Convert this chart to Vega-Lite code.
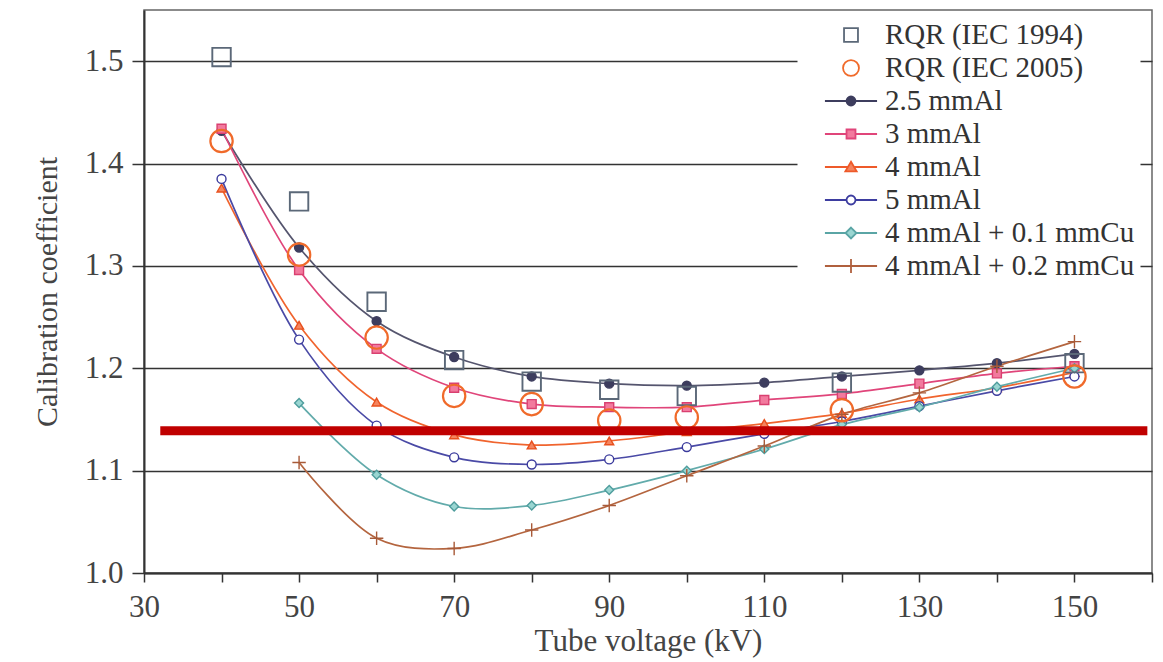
{
  "$schema": "https://vega.github.io/schema/vega-lite/v6.json",
  "width": 1008,
  "height": 563,
  "autosize": {"type": "none"},
  "padding": {"left": 144, "top": 10, "right": 11, "bottom": 89},
  "background": "white",
  "config": {
    "font": "Liberation Serif",
    "view": {"stroke": "#666666", "strokeWidth": 1.5},
    "axis": {"titleFontWeight": "normal", "labelFont": "Liberation Serif", "titleFont": "Liberation Serif"}
  },
  "data": {
    "values": [
      {"series": "RQR (IEC 1994)", "kv": 40, "coef": 1.504},
      {"series": "RQR (IEC 1994)", "kv": 50, "coef": 1.363},
      {"series": "RQR (IEC 1994)", "kv": 60, "coef": 1.265},
      {"series": "RQR (IEC 1994)", "kv": 70, "coef": 1.208},
      {"series": "RQR (IEC 1994)", "kv": 80, "coef": 1.187},
      {"series": "RQR (IEC 1994)", "kv": 90, "coef": 1.179},
      {"series": "RQR (IEC 1994)", "kv": 100, "coef": 1.173},
      {"series": "RQR (IEC 1994)", "kv": 120, "coef": 1.186},
      {"series": "RQR (IEC 1994)", "kv": 150, "coef": 1.205},
      {"series": "RQR (IEC 2005)", "kv": 40, "coef": 1.422},
      {"series": "RQR (IEC 2005)", "kv": 50, "coef": 1.311},
      {"series": "RQR (IEC 2005)", "kv": 60, "coef": 1.230},
      {"series": "RQR (IEC 2005)", "kv": 70, "coef": 1.173},
      {"series": "RQR (IEC 2005)", "kv": 80, "coef": 1.165},
      {"series": "RQR (IEC 2005)", "kv": 90, "coef": 1.149},
      {"series": "RQR (IEC 2005)", "kv": 100, "coef": 1.152},
      {"series": "RQR (IEC 2005)", "kv": 120, "coef": 1.159},
      {"series": "RQR (IEC 2005)", "kv": 150, "coef": 1.192},
      {"series": "2.5 mmAl", "kv": 40, "coef": 1.432},
      {"series": "2.5 mmAl", "kv": 50, "coef": 1.318},
      {"series": "2.5 mmAl", "kv": 60, "coef": 1.246},
      {"series": "2.5 mmAl", "kv": 70, "coef": 1.211},
      {"series": "2.5 mmAl", "kv": 80, "coef": 1.192},
      {"series": "2.5 mmAl", "kv": 90, "coef": 1.185},
      {"series": "2.5 mmAl", "kv": 100, "coef": 1.183},
      {"series": "2.5 mmAl", "kv": 110, "coef": 1.186},
      {"series": "2.5 mmAl", "kv": 120, "coef": 1.192},
      {"series": "2.5 mmAl", "kv": 130, "coef": 1.198},
      {"series": "2.5 mmAl", "kv": 140, "coef": 1.205},
      {"series": "2.5 mmAl", "kv": 150, "coef": 1.214},
      {"series": "3 mmAl", "kv": 40, "coef": 1.434},
      {"series": "3 mmAl", "kv": 50, "coef": 1.296},
      {"series": "3 mmAl", "kv": 60, "coef": 1.219},
      {"series": "3 mmAl", "kv": 70, "coef": 1.181},
      {"series": "3 mmAl", "kv": 80, "coef": 1.165},
      {"series": "3 mmAl", "kv": 90, "coef": 1.162},
      {"series": "3 mmAl", "kv": 100, "coef": 1.162},
      {"series": "3 mmAl", "kv": 110, "coef": 1.169},
      {"series": "3 mmAl", "kv": 120, "coef": 1.175},
      {"series": "3 mmAl", "kv": 130, "coef": 1.185},
      {"series": "3 mmAl", "kv": 140, "coef": 1.195},
      {"series": "3 mmAl", "kv": 150, "coef": 1.202},
      {"series": "4 mmAl", "kv": 40, "coef": 1.376},
      {"series": "4 mmAl", "kv": 50, "coef": 1.242},
      {"series": "4 mmAl", "kv": 60, "coef": 1.167},
      {"series": "4 mmAl", "kv": 70, "coef": 1.135},
      {"series": "4 mmAl", "kv": 80, "coef": 1.125},
      {"series": "4 mmAl", "kv": 90, "coef": 1.129},
      {"series": "4 mmAl", "kv": 100, "coef": 1.138},
      {"series": "4 mmAl", "kv": 110, "coef": 1.146},
      {"series": "4 mmAl", "kv": 120, "coef": 1.156},
      {"series": "4 mmAl", "kv": 130, "coef": 1.170},
      {"series": "4 mmAl", "kv": 140, "coef": 1.181},
      {"series": "4 mmAl", "kv": 150, "coef": 1.196},
      {"series": "5 mmAl", "kv": 40, "coef": 1.385},
      {"series": "5 mmAl", "kv": 50, "coef": 1.228},
      {"series": "5 mmAl", "kv": 60, "coef": 1.144},
      {"series": "5 mmAl", "kv": 70, "coef": 1.113},
      {"series": "5 mmAl", "kv": 80, "coef": 1.106},
      {"series": "5 mmAl", "kv": 90, "coef": 1.111},
      {"series": "5 mmAl", "kv": 100, "coef": 1.123},
      {"series": "5 mmAl", "kv": 110, "coef": 1.136},
      {"series": "5 mmAl", "kv": 120, "coef": 1.148},
      {"series": "5 mmAl", "kv": 130, "coef": 1.163},
      {"series": "5 mmAl", "kv": 140, "coef": 1.178},
      {"series": "5 mmAl", "kv": 150, "coef": 1.192},
      {"series": "4 mmAl + 0.1 mmCu", "kv": 50, "coef": 1.166},
      {"series": "4 mmAl + 0.1 mmCu", "kv": 60, "coef": 1.096},
      {"series": "4 mmAl + 0.1 mmCu", "kv": 70, "coef": 1.065},
      {"series": "4 mmAl + 0.1 mmCu", "kv": 80, "coef": 1.066},
      {"series": "4 mmAl + 0.1 mmCu", "kv": 90, "coef": 1.081},
      {"series": "4 mmAl + 0.1 mmCu", "kv": 100, "coef": 1.100},
      {"series": "4 mmAl + 0.1 mmCu", "kv": 110, "coef": 1.121},
      {"series": "4 mmAl + 0.1 mmCu", "kv": 120, "coef": 1.145},
      {"series": "4 mmAl + 0.1 mmCu", "kv": 130, "coef": 1.162},
      {"series": "4 mmAl + 0.1 mmCu", "kv": 140, "coef": 1.182},
      {"series": "4 mmAl + 0.1 mmCu", "kv": 150, "coef": 1.200},
      {"series": "4 mmAl + 0.2 mmCu", "kv": 50, "coef": 1.108},
      {"series": "4 mmAl + 0.2 mmCu", "kv": 60, "coef": 1.034},
      {"series": "4 mmAl + 0.2 mmCu", "kv": 70, "coef": 1.024},
      {"series": "4 mmAl + 0.2 mmCu", "kv": 80, "coef": 1.042},
      {"series": "4 mmAl + 0.2 mmCu", "kv": 90, "coef": 1.066},
      {"series": "4 mmAl + 0.2 mmCu", "kv": 100, "coef": 1.095},
      {"series": "4 mmAl + 0.2 mmCu", "kv": 110, "coef": 1.124},
      {"series": "4 mmAl + 0.2 mmCu", "kv": 120, "coef": 1.155},
      {"series": "4 mmAl + 0.2 mmCu", "kv": 130, "coef": 1.176},
      {"series": "4 mmAl + 0.2 mmCu", "kv": 140, "coef": 1.202},
      {"series": "4 mmAl + 0.2 mmCu", "kv": 150, "coef": 1.226}
    ]
  },
  "layer": [
    {
      "transform": [{"filter": {"field": "series", "oneOf": ["2.5 mmAl", "3 mmAl", "4 mmAl", "5 mmAl", "4 mmAl + 0.1 mmCu", "4 mmAl + 0.2 mmCu"]}}],
      "mark": {"type": "line", "interpolate": "catmull-rom", "strokeWidth": 1.7},
      "encoding": {
        "x": {
          "field": "kv", "type": "quantitative",
          "scale": {"domain": [30, 160], "nice": false},
          "axis": {
            "values": [30, 40, 50, 60, 70, 80, 90, 100, 110, 120, 130, 140, 150, 160],
            "labelExpr": "datum.value % 20 == 10 ? datum.label : ''",
            "format": "d", "grid": false, "tickSize": 9, "tickWidth": 1.5, "tickColor": "#333333",
            "domainColor": "#333333", "domainWidth": 2, "labelFontSize": 31, "labelColor": "#444444",
            "labelPadding": 10, "labelFlush": false, "labelOverlap": false,
            "title": "Tube voltage (kV)", "titleFontSize": 31, "titleColor": "#444444", "titlePadding": 4
          }
        },
        "y": {
          "field": "coef", "type": "quantitative",
          "scale": {"domain": [1.0, 1.55], "nice": false, "zero": false},
          "axis": {
            "values": [1.0, 1.1, 1.2, 1.3, 1.4, 1.5], "format": ".1f",
            "grid": true, "gridColor": "#333333", "gridWidth": 1.3,
            "tickSize": 12, "tickWidth": 1.5, "tickColor": "#333333",
            "domainColor": "#333333", "domainWidth": 2, "labelFontSize": 31, "labelColor": "#444444",
            "labelPadding": 9, "title": "Calibration coefficient", "titleFontSize": 30,
            "titleColor": "#444444", "titlePadding": 22
          }
        },
        "stroke": {
          "field": "series", "type": "nominal",
          "scale": {"domain": ["2.5 mmAl", "3 mmAl", "4 mmAl", "5 mmAl", "4 mmAl + 0.1 mmCu", "4 mmAl + 0.2 mmCu"],
                    "range": ["#55556e", "#e0457a", "#f0642e", "#4a4aa6", "#62abab", "#b4653f"]},
          "legend": null
        }
      }
    },
    {
      "transform": [{"filter": {"field": "series", "oneOf": ["2.5 mmAl", "3 mmAl", "4 mmAl", "5 mmAl", "4 mmAl + 0.1 mmCu", "4 mmAl + 0.2 mmCu"]}}],
      "mark": {"type": "point", "filled": true, "size": 80, "strokeWidth": 1.4, "opacity": 1},
      "encoding": {
        "x": {"field": "kv", "type": "quantitative"},
        "y": {"field": "coef", "type": "quantitative"},
        "shape": {
          "field": "series", "type": "nominal",
          "scale": {"domain": ["2.5 mmAl", "3 mmAl", "4 mmAl", "5 mmAl", "4 mmAl + 0.1 mmCu", "4 mmAl + 0.2 mmCu"],
                    "range": ["circle", "square", "triangle-up", "circle", "diamond", "M-1.5,0H1.5M0,-1.5V1.5"]},
          "legend": null
        },
        "stroke": {
          "field": "series", "type": "nominal",
          "scale": {"domain": ["2.5 mmAl", "3 mmAl", "4 mmAl", "5 mmAl", "4 mmAl + 0.1 mmCu", "4 mmAl + 0.2 mmCu"],
                    "range": ["#3d3d5e", "#d94070", "#e8501e", "#3a3a9c", "#4f9d9d", "#a85a38"]},
          "legend": null
        },
        "fill": {
          "field": "series", "type": "nominal",
          "scale": {"domain": ["2.5 mmAl", "3 mmAl", "4 mmAl", "5 mmAl", "4 mmAl + 0.1 mmCu", "4 mmAl + 0.2 mmCu"],
                    "range": ["#3d3d5e", "#f27a9e", "#f5845e", "white", "#9ad6d2", "transparent"]},
          "legend": null
        }
      }
    },
    {
      "transform": [{"filter": {"field": "series", "equal": "RQR (IEC 1994)"}}],
      "mark": {"type": "point", "shape": "square", "size": 340, "filled": false, "stroke": "#5b6878", "strokeWidth": 1.9, "opacity": 1},
      "encoding": {
        "x": {"field": "kv", "type": "quantitative"},
        "y": {"field": "coef", "type": "quantitative"}
      }
    },
    {
      "transform": [{"filter": {"field": "series", "equal": "RQR (IEC 2005)"}}],
      "mark": {"type": "point", "shape": "circle", "size": 500, "filled": false, "stroke": "#f06a2a", "strokeWidth": 2.2, "opacity": 1},
      "encoding": {
        "x": {"field": "kv", "type": "quantitative"},
        "y": {"field": "coef", "type": "quantitative"}
      }
    },
    {
      "transform": [{"filter": "false"}],
      "mark": {"type": "point", "filled": true, "strokeWidth": 1.8, "opacity": 1},
      "encoding": {
        "x": {"field": "kv", "type": "quantitative"},
        "y": {"field": "coef", "type": "quantitative"},
        "shape": {
          "field": "series", "type": "nominal",
          "scale": {
            "domain": ["RQR (IEC 1994)", "RQR (IEC 2005)", "2.5 mmAl", "3 mmAl", "4 mmAl", "5 mmAl", "4 mmAl + 0.1 mmCu", "4 mmAl + 0.2 mmCu"],
            "range": [
              "M-0.42,-0.42H0.42V0.42H-0.42Z",
              "M0.48,0A0.48,0.48 0 1,1 -0.48,0A0.48,0.48 0 1,1 0.48,0Z",
              "M-1.57,0H-0.27M0.27,0H1.57M0.27,0A0.27,0.27 0 1,1 -0.27,0A0.27,0.27 0 1,1 0.27,0Z",
              "M-1.57,0H-0.27M0.27,0H1.57M-0.27,-0.27H0.27V0.27H-0.27Z",
              "M-1.57,0H-0.2M0.2,0H1.57M0,-0.32L0.34,0.26H-0.34Z",
              "M-1.57,0H-0.27M0.27,0H1.57M0.27,0A0.27,0.27 0 1,1 -0.27,0A0.27,0.27 0 1,1 0.27,0Z",
              "M-1.57,0H-0.33M0.33,0H1.57M0,-0.33L0.33,0L0,0.33L-0.33,0Z",
              "M-1.57,0H1.57M0,-0.42V0.42"
            ]
          },
          "legend": {"title": null, "orient": "none", "legendX": 653.5, "legendY": 1.5, "symbolSize": 1102, "symbolOffset": 30, "labelOffset": 16.5, "labelFontSize": 29, "labelFont": "Liberation Serif", "labelColor": "#333333", "labelLimit": 400, "fillColor": "white", "padding": 6, "rowPadding": 0, "symbolStrokeWidth": 1.8}
        },
        "stroke": {
          "field": "series", "type": "nominal",
          "scale": {
            "domain": ["RQR (IEC 1994)", "RQR (IEC 2005)", "2.5 mmAl", "3 mmAl", "4 mmAl", "5 mmAl", "4 mmAl + 0.1 mmCu", "4 mmAl + 0.2 mmCu"],
            "range": ["#5b6878", "#f06a2a", "#3d3d5e", "#e0457a", "#ee5a2a", "#3d3da0", "#5aa5a5", "#b0603e"]
          },
          "legend": {"title": null, "orient": "none", "legendX": 653.5, "legendY": 1.5, "symbolSize": 1102, "symbolOffset": 30, "labelOffset": 16.5, "labelFontSize": 29, "labelFont": "Liberation Serif", "labelColor": "#333333", "labelLimit": 400, "fillColor": "white", "padding": 6, "rowPadding": 0, "symbolStrokeWidth": 1.8}
        },
        "fill": {
          "field": "series", "type": "nominal",
          "scale": {
            "domain": ["RQR (IEC 1994)", "RQR (IEC 2005)", "2.5 mmAl", "3 mmAl", "4 mmAl", "5 mmAl", "4 mmAl + 0.1 mmCu", "4 mmAl + 0.2 mmCu"],
            "range": ["white", "white", "#3d3d5e", "#f27a9e", "#f5845e", "white", "#9ad6d2", "white"]
          },
          "legend": {"title": null, "orient": "none", "legendX": 653.5, "legendY": 1.5, "symbolSize": 1102, "symbolOffset": 30, "labelOffset": 16.5, "labelFontSize": 29, "labelFont": "Liberation Serif", "labelColor": "#333333", "labelLimit": 400, "fillColor": "white", "padding": 6, "rowPadding": 0, "symbolStrokeWidth": 1.8}
        }
      }
    },
    {
      "data": {"values": [{"label": "reference level"}]},
      "mark": {"type": "rule", "color": "#c00000", "strokeWidth": 9},
      "encoding": {
        "x": {"datum": 32.1, "type": "quantitative"},
        "x2": {"datum": 159.4},
        "y": {"datum": 1.139, "type": "quantitative"}
      }
    }
  ],
  "resolve": {"scale": {"shape": "independent", "stroke": "independent", "fill": "independent"}}
}
